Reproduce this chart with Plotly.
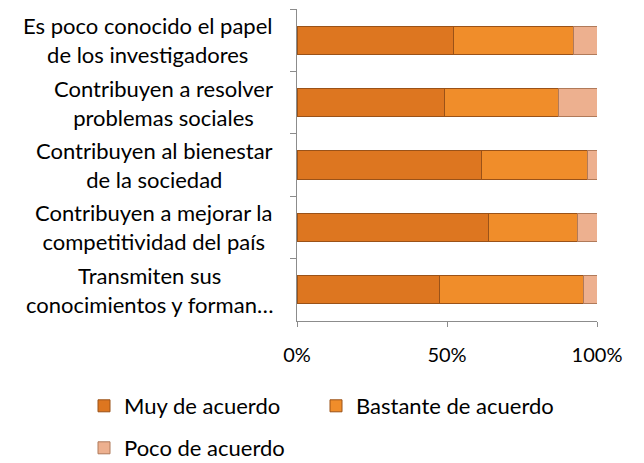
import plotly.graph_objects as go

categories = [
    "Es poco conocido el papel<br>de los investigadores",
    "Contribuyen a resolver<br>problemas sociales",
    "Contribuyen al bienestar<br>de la sociedad",
    "Contribuyen a mejorar la<br>competitividad del país",
    "Transmiten sus<br>conocimientos y forman…",
]
muy = [0.52, 0.49, 0.615, 0.637, 0.476]
bastante = [0.40, 0.383, 0.353, 0.297, 0.478]
poco = [0.08, 0.127, 0.032, 0.066, 0.046]
series_names = ["Muy de acuerdo", "Bastante de acuerdo", "Poco de acuerdo"]
tick_vals = [0, 0.5, 1.0]
tick_text = ["0%", "50%", "100%"]

FONT = "Lato"
W, H = 628, 455  # page body has an 8px margin
colors = ["#DD7620", "#F08D2A", "#EDB08F"]
lines = ["#9A5218", "#9A5218", "#B07A5A"]
legend_ids = ["legend", "legend2", "legend3"]
# legend positions in page pixels (x of legend box, y of row centre)
legend_pos = [(84, 406), (316, 406), (84, 448)]

fig = go.Figure()
for name, vals, c, lc, lg in zip(series_names, [muy, bastante, poco], colors, lines, legend_ids):
    fig.add_trace(go.Bar(
        y=categories, x=vals, name=name, orientation="h",
        marker=dict(color=c, line=dict(color=lc, width=1)),
        legend=lg,
    ))

for cat in categories:
    fig.add_annotation(
        x=0, y=cat, xref="x", yref="y", text=cat, showarrow=False,
        xanchor="right", yanchor="middle", align="center", xshift=-22,
        font=dict(family=FONT, size=22, color="#000000"),
    )

legend_layout = {}
for lg, (px, py) in zip(legend_ids, legend_pos):
    legend_layout[lg] = dict(
        orientation="h", xref="container", yref="container",
        x=(px - 8) / W, y=1 - (py - 8) / H, xanchor="left", yanchor="middle",
        font=dict(family=FONT, size=22, color="#000000"),
        bgcolor="rgba(0,0,0,0)",
    )

fig.update_layout(
    width=W, height=H,
    margin=dict(l=289, r=39, t=1, b=142),
    barmode="stack", bargap=0.55,
    paper_bgcolor="white", plot_bgcolor="white",
    font=dict(family=FONT, size=20, color="#000000"),
    showlegend=True,
    xaxis=dict(
        range=[0, 1], tickvals=tick_vals, ticktext=tick_text,
        showgrid=False, zeroline=False, showline=True, linecolor="#8C8C8C",
        ticks="outside", ticklen=5, tickcolor="#8C8C8C",
        ticklabelstandoff=11,
        tickfont=dict(family=FONT, size=20, color="#000000"),
    ),
    yaxis=dict(
        autorange="reversed", showticklabels=False, showgrid=False,
        showline=True, linecolor="#8C8C8C",
        ticks="outside", ticklen=6, tickcolor="#8C8C8C", tickson="boundaries",
    ),
    **legend_layout,
)

fig.write_html("out.html")
